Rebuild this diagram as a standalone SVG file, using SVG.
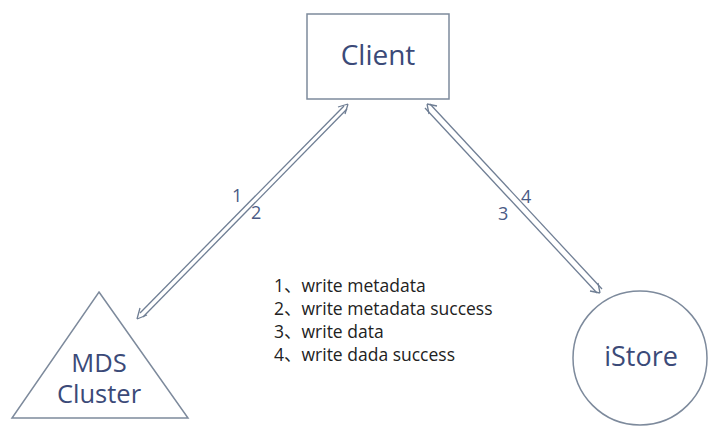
<svg xmlns="http://www.w3.org/2000/svg" width="708" height="428" viewBox="0 0 708 428">
<style>
.shape{fill:#ffffff;stroke:#7d8a9c;stroke-width:1.5}
.lbl{font-family:"Open Sans","Liberation Sans","Noto Sans",sans-serif;fill:#3b4a78;text-anchor:middle}
.num{font-family:"Open Sans","Liberation Sans",sans-serif;fill:#4a5a85;font-size:18px}
.leg{font-family:"Open Sans","Liberation Sans","Noto Sans CJK SC",sans-serif;fill:#222;font-size:17.5px}
.ln{stroke:#6f7e94;stroke-width:1.3;fill:none}
</style>
<rect width="708" height="428" fill="#ffffff"/>
<g id="client">
<rect class="shape" x="307" y="14" width="142" height="85"/>
<text class="lbl" x="378" y="65" font-size="28">Client</text>
</g>
<g id="mds">
<polygon class="shape" points="99,292 188,418 12,418"/>
<text class="lbl" x="99" y="372" font-size="25.5">MDS</text>
<text class="lbl" x="99" y="403" font-size="25.5">Cluster</text>
</g>
<g id="istore">
<circle class="shape" cx="640" cy="358" r="67"/>
<text class="lbl" x="641" y="366" font-size="27">iStore</text>
</g>
<g id="connectors">
<line class="ln" x1="140" y1="313" x2="344" y2="106"/>
<line class="ln" x1="143" y1="317" x2="347" y2="109"/>
<path class="ln" d="M137,319 L140,308 M137,319 L147,315"/>
<path class="ln" d="M348,104 L338,107 M348,104 L345,114"/>
<line class="ln" x1="430" y1="104" x2="602" y2="289"/>
<line class="ln" x1="425" y1="108" x2="597" y2="293"/>
<path class="ln" d="M427,104 L437,106 M427,104 L429,114"/>
<path class="ln" d="M600,293 L590,291 M600,293 L598,283"/>
<text class="num" x="232" y="202">1</text>
<text class="num" x="251" y="219">2</text>
<text class="num" x="521" y="203">4</text>
<text class="num" x="498" y="220">3</text>
</g>
<g id="legend">
<text class="leg" x="274" y="292">1、write metadata</text>
<text class="leg" x="274" y="315">2、write metadata success</text>
<text class="leg" x="274" y="338">3、write data</text>
<text class="leg" x="274" y="361">4、write dada success</text>
</g>
</svg>
